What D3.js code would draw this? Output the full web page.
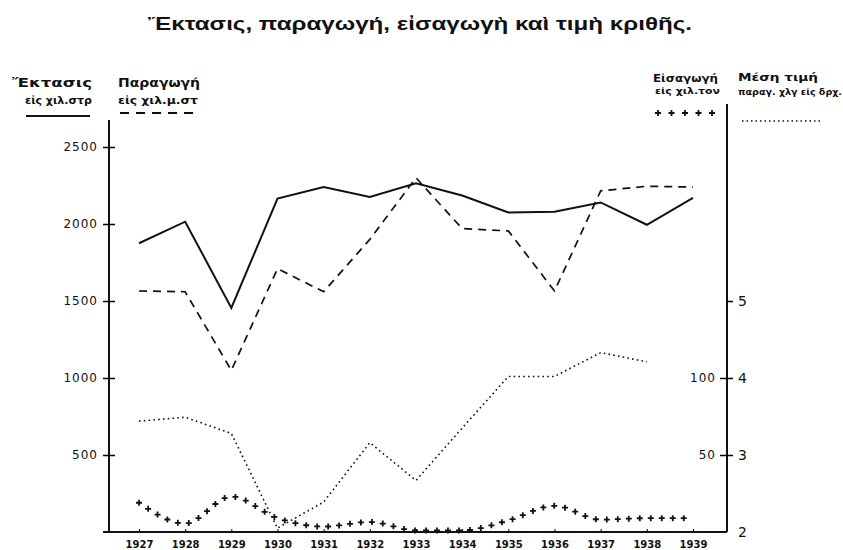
<!DOCTYPE html>
<html>
<head>
<meta charset="utf-8">
<script src="https://cdn.jsdelivr.net/npm/d3@7"></script>
<style>
  body { margin: 0; background: #fff; }
  svg { display: block; }
  text { fill: #111; }
</style>
</head>
<body>
<svg id="chart" width="843" height="550"></svg>
<script>
// data, one value per year
var years = [1927, 1928, 1929, 1930, 1931, 1932, 1933, 1934, 1935, 1936, 1937, 1938, 1939];
var area = [1875, 2015, 1455, 2165, 2240, 2175, 2265, 2185, 2075, 2080, 2140, 1995, 2170];       // thousand stremmata
var production = [1565, 1560, 1050, 1710, 1560, 1900, 2300, 1970, 1955, 1565, 2215, 2245, 2240]; // thousand m.t.
var imports = [19, 5.5, 23, 9, 3.5, 6.5, 1, 1, 7.5, 17, 8, 9, 9];                                // thousand tons
var price = [3.44, 3.49, 3.28, 2.05, 2.39, 3.16, 2.67, 3.35, 4.02, 4.02, 4.33, 4.21, null];      // drachmas per kg

var leftTicks = [500, 1000, 1500, 2000, 2500];
var importTicks = [50, 100];
var priceTicks = [2, 3, 4, 5];

var title = "Ἔκτασις, παραγωγή, εἰσαγωγὴ καὶ τιμὴ κριθῆς.";

var svg = d3.select("#chart");
var hand = "'DejaVu Sans', sans-serif";
var fmt = d3.format("d");

var x = d3.scaleLinear().domain([1927, 1939]).range([139, 693]);
var yL = d3.scaleLinear().domain([0, 2500]).range([532, 147]);
var yImp = d3.scaleLinear().domain([0, 100]).range([532, 378]);
var yPrice = d3.scaleLinear().domain([2, 5]).range([532, 301]);

var xL = 109, xR = 727;

// title
svg.append("text")
  .attr("x", 148).attr("y", 30)
  .attr("textLength", 544).attr("lengthAdjust", "spacingAndGlyphs")
  .style("font-family", "'Liberation Sans', Arial, sans-serif")
  .style("font-weight", "bold").style("font-size", "19px")
  .text(title);

// axis lines
svg.append("line").attr("x1", xL).attr("x2", xL).attr("y1", 120).attr("y2", 532)
  .attr("stroke", "#111").attr("stroke-width", 2);
svg.append("line").attr("x1", xR).attr("x2", xR).attr("y1", 104).attr("y2", 532)
  .attr("stroke", "#111").attr("stroke-width", 2);
svg.append("line").attr("x1", 103).attr("x2", xR).attr("y1", 532).attr("y2", 532)
  .attr("stroke", "#111").attr("stroke-width", 2);

// left axis
var gl = svg.append("g").attr("transform", "translate(" + xL + ",0)")
  .call(d3.axisLeft(yL).tickValues(leftTicks).tickFormat(fmt).tickSize(6).tickPadding(5));
gl.select(".domain").remove();
gl.selectAll(".tick line").attr("x1", -6).attr("x2", 6).attr("stroke-width", 1.5);
gl.selectAll(".tick text").style("font-family", hand).style("font-size", "12px")
  .style("letter-spacing", "1px").attr("fill", "#111");

// right axis: imports on the inside, price on the outside
var gi = svg.append("g").attr("transform", "translate(" + xR + ",0)")
  .call(d3.axisLeft(yImp).tickValues(importTicks).tickFormat(fmt).tickSize(7).tickPadding(4));
gi.select(".domain").remove();
gi.selectAll(".tick line").attr("stroke-width", 1.5);
gi.selectAll(".tick text").style("font-family", hand).style("font-size", "12px")
  .style("letter-spacing", "1px").attr("fill", "#111");

var gp = svg.append("g").attr("transform", "translate(" + xR + ",0)")
  .call(d3.axisRight(yPrice).tickValues(priceTicks).tickFormat(fmt).tickSize(6).tickPadding(5));
gp.select(".domain").remove();
gp.selectAll(".tick line").attr("stroke-width", 1.5);
gp.selectAll(".tick").filter(function(d){ return d === 2; }).select("line").remove();
gp.selectAll(".tick text").style("font-family", hand).style("font-size", "14px").attr("fill", "#111");

// years
var gx = svg.append("g").attr("transform", "translate(0,532)")
  .call(d3.axisBottom(x).tickValues(years).tickFormat(fmt).tickSizeInner(-3).tickSizeOuter(0).tickPadding(9));
gx.select(".domain").remove();
gx.selectAll(".tick text").style("font-family", hand).style("font-size", "10px")
  .style("font-weight", "bold").attr("fill", "#111");

// series
var lineL = d3.line().x(function(d, i){ return x(years[i]); }).y(function(d){ return yL(d); });

svg.append("path").datum(area).attr("d", lineL)
  .attr("fill", "none").attr("stroke", "#111").attr("stroke-width", 2).attr("stroke-linejoin", "miter");

svg.append("path").datum(production).attr("d", lineL)
  .attr("fill", "none").attr("stroke", "#111").attr("stroke-width", 1.7)
  .attr("stroke-dasharray", "8,6");

var linePrice = d3.line()
  .defined(function(d){ return d != null; })
  .x(function(d, i){ return x(years[i]); }).y(function(d){ return yPrice(d); });
svg.append("path").datum(price).attr("d", linePrice)
  .attr("fill", "none").attr("stroke", "#111").attr("stroke-width", 1.6)
  .attr("stroke-dasharray", "1.6,3.2");

// imports: row of small crosses along the curve
var lineImp = d3.line().curve(d3.curveMonotoneX)
  .x(function(d, i){ return x(years[i]); }).y(function(d){ return yImp(d); });
var guide = svg.append("path").datum(imports).attr("d", lineImp)
  .attr("fill", "none").attr("stroke", "none");
var node = guide.node(), len = node.getTotalLength();
var steps = d3.range(0, len + 0.1, 11);
svg.append("g").selectAll("path").data(steps).join("path")
  .attr("transform", function(s){ var p = node.getPointAtLength(s); return "translate(" + p.x + "," + p.y + ")"; })
  .attr("d", "M-3,0H3M0,-3V3")
  .attr("stroke", "#111").attr("stroke-width", 1.8);

// legends, hand lettered on the plate
function label(t, x0, y0, w, size) {
  svg.append("text").attr("x", x0).attr("y", y0)
    .attr("textLength", w).attr("lengthAdjust", "spacingAndGlyphs")
    .style("font-family", hand).style("font-size", size + "px")
    .style("font-weight", "bold").text(t);
}
label("Ἔκτασις", 12, 87, 80, 12);
label("εἰς χιλ.στρ", 25, 104, 67, 10);
label("Παραγωγή", 118, 87, 82, 12);
label("εἰς χιλ.μ.στ", 118, 104, 80, 10);
label("Εἰσαγωγή", 653, 82, 65, 10);
label("εἰς χιλ.τον", 655, 94, 65, 9);
label("Μέση τιμή", 738, 81, 80, 11);
label("παραγ. χλγ εἰς δρχ.", 738, 95, 104, 9);

svg.append("line").attr("x1", 26).attr("x2", 90).attr("y1", 116).attr("y2", 116)
  .attr("stroke", "#111").attr("stroke-width", 2);
svg.append("line").attr("x1", 120).attr("x2", 198).attr("y1", 113).attr("y2", 113)
  .attr("stroke", "#111").attr("stroke-width", 2).attr("stroke-dasharray", "9,7");
svg.append("g").selectAll("path").data(d3.range(5)).join("path")
  .attr("transform", function(i){ return "translate(" + (658 + i * 13.5) + ",113)"; })
  .attr("d", "M-3,0H3M0,-3V3")
  .attr("stroke", "#111").attr("stroke-width", 1.8);
svg.append("line").attr("x1", 742).attr("x2", 821).attr("y1", 121).attr("y2", 121)
  .attr("stroke", "#111").attr("stroke-width", 1.5).attr("stroke-dasharray", "1.5,3");
</script>
</body>
</html>
